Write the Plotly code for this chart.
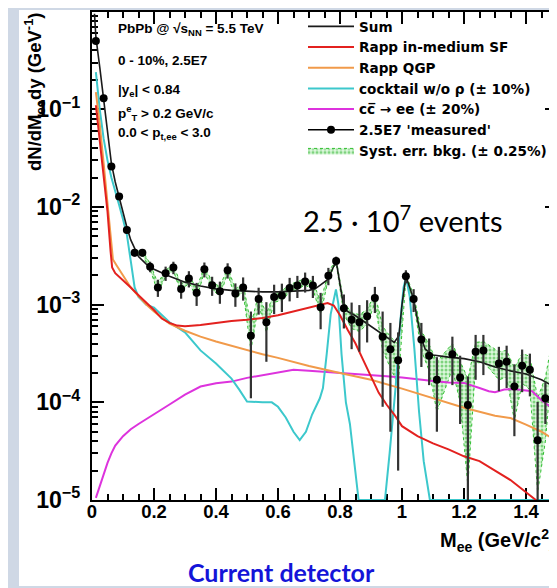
import plotly.graph_objects as go

# ---------------- data ----------------
mass = [0.0125, 0.0375, 0.0625, 0.0875, 0.1125, 0.1375, 0.1625, 0.1875, 0.2125, 0.2375,
        0.2625, 0.2875, 0.3125, 0.3375, 0.3625, 0.3875, 0.4125, 0.4375, 0.4625, 0.4875,
        0.5125, 0.5375, 0.5625, 0.5875, 0.6125, 0.6375, 0.6625, 0.6875, 0.7125, 0.7375,
        0.7625, 0.7875, 0.8125, 0.8375, 0.8625, 0.8875, 0.9125, 0.9375, 0.9625, 0.9875,
        1.0125, 1.0375, 1.0625, 1.0875, 1.1125, 1.1375, 1.1625, 1.1875, 1.2125, 1.2375,
        1.2625, 1.2875, 1.3125, 1.3375, 1.3625, 1.3875, 1.4125, 1.4375, 1.4625, 1.4875]
measured = [0.50, 0.13, 0.026, 0.0128, 0.0058, 0.0034, 0.0034, 0.00245, 0.0015, 0.0021,
            0.0024, 0.00145, 0.00185, 0.00132, 0.0023, 0.00158, 0.00137, 0.00225, 0.0013, 0.0015,
            0.00048, 0.00114, 0.00066, 0.0012, 0.00124, 0.00148, 0.00157, 0.00173, 0.00157, 0.00094,
            0.00198, 0.0028, 0.00092, 0.0007, 0.00066, 0.00076, 0.00117, 0.00047, 0.00035, 0.00027,
            0.00195, 0.00114, 0.00044, 0.0003, 0.00017, None, 0.00031, 0.00018, 0.000094, 0.00033,
            0.00034, None, 0.00025, 0.00026, 0.000145, 0.000237, 0.000215, 0.000041, 0.00011, 0.0004]
stat_err = [0.004, 0.002, 0.0008, 0.0006, 0.0004, 0.0003, 0.0003, 0.0003, 0.0003, 0.00035,
            0.00035, 0.0003, 0.00035, 0.00035, 0.0004, 0.00035, 0.00035, 0.0004, 0.00035, 0.0004,
            0.00037, 0.00035, 0.0004, 0.0004, 0.0004, 0.0004, 0.0004, 0.0004, 0.0004, 0.00038,
            0.0004, 0.0003, 0.00035, 0.00035, 0.00033, 0.00035, 0.00035, 0.00038, 0.0003, 0.00025,
            0.0003, 0.0003, 0.00021, 0.00015, 0.00012, None, 0.00016, 0.00012, 0.00009, 0.00016,
            0.00015, None, 0.00012, 0.00012, 0.0001, 0.00011, 0.0001, 0.00006, 0.00005, 0.00012]
syst_bkg = [0.0, 0.0, 0.0, 0.0, 0.0, 0.00018, 0.00018, 0.00017, 0.00016, 0.00016,
            0.00016, 0.00015, 0.00015, 0.00015, 0.00015, 0.00015, 0.00015, 0.00015, 0.00015, 0.00015,
            0.00014, 0.00014, 0.00014, 0.00014, 0.00014, 0.00014, 0.00014, 0.00014, 0.00014, 0.00014,
            0.00014, 0.00014, 0.00013, 0.00013, 0.00013, 0.00013, 0.00013, 0.00013, 0.00012, 0.00012,
            0.00012, 0.00011, 0.0001, 0.00009, 0.00009, None, 0.00009, 0.00008, 0.00008, 0.00008,
            0.00008, None, 0.00008, 0.00008, 0.00008, 0.00008, 0.00008, 0.00007, 0.00007, 0.00008]
band_floor = 1.2e-5  # lower edge of the drawn band where it would go below the frame

sum_x = [0.008, 0.0125, 0.025, 0.0375, 0.05, 0.0625, 0.075, 0.0875, 0.1, 0.1125, 0.125, 0.1375,
         0.15, 0.175, 0.2, 0.25, 0.3, 0.35, 0.4, 0.45, 0.5, 0.55, 0.6, 0.65, 0.7, 0.72, 0.74,
         0.76, 0.7875, 0.8125, 0.825, 0.85, 0.875, 0.9, 0.925, 0.95, 0.975, 0.99, 1.0, 1.0125,
         1.025, 1.0375, 1.05, 1.0625, 1.075, 1.1, 1.15, 1.2, 1.25, 1.3, 1.35, 1.4, 1.45, 1.5]
sum_y = [0.95, 0.55, 0.27, 0.13, 0.058, 0.028, 0.018, 0.0125, 0.0088, 0.0062, 0.0046, 0.0037,
         0.0031, 0.0026, 0.0023, 0.00195, 0.0017, 0.00155, 0.00145, 0.0014, 0.00137, 0.00135,
         0.00135, 0.00137, 0.0014, 0.00145, 0.0016, 0.0018, 0.0028, 0.00093, 0.00085, 0.00077,
         0.00068, 0.0006, 0.00053, 0.00047, 0.00041, 0.00048, 0.001, 0.00195, 0.0015, 0.00114,
         0.0007, 0.00045, 0.00035, 0.000305, 0.00029, 0.00028, 0.00026, 0.00023, 0.00021,
         0.000195, 0.00017, 0.00014]

rapp_sf_x = [0.0125, 0.025, 0.0375, 0.05, 0.06, 0.065, 0.075, 0.09, 0.1, 0.125, 0.15, 0.175,
             0.2, 0.225, 0.25, 0.275, 0.3, 0.35, 0.4, 0.45, 0.5, 0.55, 0.6, 0.65, 0.7, 0.74,
             0.76, 0.78, 0.8, 0.825, 0.85, 0.875, 0.9, 0.925, 0.95, 0.975, 1.0, 1.05, 1.1,
             1.15, 1.2, 1.25, 1.3, 1.35, 1.4, 1.43, 1.46]
rapp_sf_y = [0.11, 0.05, 0.022, 0.009, 0.0035, 0.0024, 0.0021, 0.0019, 0.0018, 0.0015, 0.00125,
             0.00105, 0.00088, 0.00072, 0.00065, 0.00061, 0.0006, 0.00062, 0.00065, 0.00068,
             0.0007, 0.00073, 0.00078, 0.00085, 0.00093, 0.001, 0.00104, 0.00098, 0.00078,
             0.00055, 0.0004, 0.00027, 0.00018, 0.000125, 0.000095, 0.000075, 0.000057,
             0.000045, 0.000038, 0.000033, 0.000028, 0.000025, 0.00002, 0.000016, 0.000012,
             0.00001, 0.0000085]

rapp_qgp_x = [0.0125, 0.025, 0.0375, 0.05, 0.06, 0.0675, 0.08, 0.1, 0.125, 0.15, 0.175, 0.2,
              0.225, 0.25, 0.3, 0.35, 0.4, 0.45, 0.5, 0.55, 0.6, 0.7, 0.8, 0.9, 1.0, 1.1, 1.2,
              1.3, 1.35, 1.4, 1.45, 1.5]
rapp_qgp_y = [0.15, 0.07, 0.028, 0.011, 0.005, 0.0029, 0.0025, 0.002, 0.0015, 0.00122, 0.001,
              0.00085, 0.00073, 0.00064, 0.00054, 0.00047, 0.00042, 0.00038, 0.00034, 0.00031,
              0.000285, 0.000235, 0.0002, 0.00017, 0.000138, 0.00011, 0.000088, 0.000073,
              0.000069, 0.000059, 0.00005, 0.00004]

cocktail_x = [0.0125, 0.025, 0.0375, 0.05, 0.0625, 0.075, 0.0875, 0.1, 0.1125, 0.125, 0.1375,
              0.15, 0.175, 0.2, 0.25, 0.3, 0.35, 0.4, 0.43, 0.45, 0.475, 0.5, 0.55, 0.58, 0.6,
              0.625, 0.65, 0.67, 0.69, 0.71, 0.735, 0.745, 0.757, 0.77, 0.787, 0.795, 0.805,
              0.819, 0.832, 0.845, 0.86, 0.9, 0.945, 0.96, 0.98, 0.995, 1.005, 1.013, 1.025,
              1.04, 1.055, 1.07, 1.09, 1.2, 1.3, 1.4, 1.5]
cocktail_y = [0.24, 0.1, 0.05, 0.03, 0.02, 0.014, 0.0105, 0.0075, 0.0052, 0.0028, 0.0015,
              0.0012, 0.001, 0.00093, 0.00066, 0.00052, 0.00034, 0.00025, 0.0002, 0.000175,
              0.000135, 0.000102, 0.0001, 0.0001, 0.00009, 0.00007, 0.00005, 0.000041, 0.00005,
              0.000075, 0.00011, 0.00014, 0.00031, 0.0008, 0.00143, 0.001, 0.00031, 0.0001,
              0.00006, 0.000025, 0.00001, 0.00001, 0.00001, 0.00003, 0.00015, 0.0007, 0.0015,
              0.0019, 0.0012, 0.00035, 0.00008, 0.000025, 0.00001, 0.00001, 0.00001, 0.00001,
              0.00001]

charm_x = [0.0125, 0.025, 0.0375, 0.05, 0.0625, 0.075, 0.1, 0.125, 0.15, 0.2, 0.25, 0.3, 0.35,
           0.4, 0.45, 0.5, 0.55, 0.6, 0.65, 0.7, 0.75, 0.8, 0.85, 0.9, 0.95, 1.0, 1.05, 1.1,
           1.15, 1.2, 1.25, 1.28, 1.3, 1.33, 1.36, 1.42, 1.45, 1.5]
charm_y = [0.0000105, 0.000014, 0.000019, 0.000024, 0.00003, 0.000036, 0.000045, 0.000053,
           0.00006, 0.000075, 0.000095, 0.00012, 0.000145, 0.000157, 0.000163, 0.000178,
           0.00019, 0.0002, 0.000215, 0.00021, 0.000205, 0.0002, 0.000197, 0.00019, 0.000185,
           0.00018, 0.000172, 0.000165, 0.00016, 0.000158, 0.00014, 0.00013, 0.000127,
           0.000135, 0.000137, 0.00013, 0.000105, 0.00008]

# ---------------- layout helpers ----------------
# the page body adds an 8 px margin, so the figure is drawn 8 px smaller and the
# plot frame is placed so that it lands at x 92..557, y 12..500 of the window
PAGE = 8
W, H = 557 - PAGE, 588 - PAGE
L, T = 92 - PAGE, 12 - PAGE
PW, PH = 465, 488
R, B = W - L - PW, H - T - PH


def px(xp):
    return (xp - 92) / PW


def py(yp):
    return (500 - yp) / PH


band_x, band_hi, band_lo = [], [], []
for m, v, s in zip(mass, measured, syst_bkg):
    if v is None or s is None or s == 0:
        continue
    band_x.append(m)
    band_hi.append(v + s)
    band_lo.append(max(v - s, band_floor))

bold = dict(family="Liberation Sans, Arial, sans-serif", color="black", weight="bold")

fig = go.Figure()

fig.add_trace(go.Scatter(
    x=band_x + band_x[::-1], y=band_hi + band_lo[::-1], mode="lines", fill="toself",
    line=dict(color="#33c033", width=1, dash="dot"),
    fillcolor="rgba(150,228,150,0.45)",
    fillpattern=dict(shape=".", fgcolor="#22b022", bgcolor="rgba(185,240,185,0.5)",
                     size=4, solidity=0.45),
    name="Syst. err. bkg. (± 0.25%)", legendrank=7, hoverinfo="skip"))

fig.add_trace(go.Scatter(x=charm_x, y=charm_y, mode="lines",
                         line=dict(color="#dd33dd", width=2),
                         name="cc\u0305 → ee (± 20%)", legendrank=5))
fig.add_trace(go.Scatter(x=cocktail_x, y=cocktail_y, mode="lines",
                         line=dict(color="#3cc8cc", width=2),
                         name="cocktail w/o ρ (± 10%)", legendrank=4))
fig.add_trace(go.Scatter(x=rapp_qgp_x, y=rapp_qgp_y, mode="lines",
                         line=dict(color="#f19a4a", width=2),
                         name="Rapp QGP", legendrank=3))
fig.add_trace(go.Scatter(x=rapp_sf_x, y=rapp_sf_y, mode="lines",
                         line=dict(color="#e3211f", width=2),
                         name="Rapp in-medium SF", legendrank=2))
fig.add_trace(go.Scatter(x=sum_x, y=sum_y, mode="lines",
                         line=dict(color="#1a1a1a", width=1.6),
                         name="Sum", legendrank=1))

fig.add_trace(go.Scatter(
    x=mass, y=measured, mode="markers",
    marker=dict(color="black", size=8),
    error_y=dict(type="data", array=stat_err, symmetric=True, color="#333333",
                 thickness=2.2, width=0),
    showlegend=False, name="2.5E7 'measured'"))
# legend entry for the measured points (line + marker glyph)
fig.add_trace(go.Scatter(x=[None], y=[None], mode="lines+markers",
                         line=dict(color="black", width=1.6),
                         marker=dict(color="black", size=8),
                         name="2.5E7 'measured'", legendrank=6))

axis_common = dict(showline=True, linewidth=2, linecolor="black", mirror="allticks",
                   ticks="inside", ticklen=12, tickwidth=1.5, tickcolor="black",
                   showgrid=False, zeroline=False, layer="below traces",
                   tickfont=dict(size=18.5, **bold))

fig.update_xaxes(range=[0, 1.5], dtick=0.2, tick0=0, ticklabelstandoff=-6,
                 minor=dict(ticks="inside", ticklen=6, dtick=0.05, tickwidth=1.5,
                            tickcolor="black", showgrid=False),
                 **axis_common)
fig.update_yaxes(type="log", range=[-5, -0.004], dtick=1, exponentformat="power",
                 ticklabelstandoff=6,
                 minor=dict(ticks="inside", ticklen=6, dtick="D1", tickwidth=1.5,
                            tickcolor="black", showgrid=False),
                 **axis_common)

annotations = [
    dict(x=px(35), y=py(92), text="dN/dM<sub>ee</sub>dy (GeV<sup>-1</sup>)",
         textangle=-90, font=dict(size=18.5, **bold)),
    dict(x=px(558), y=py(540), text="M<sub>ee</sub> (GeV/c<sup>2</sup>)",
         xanchor="right", font=dict(size=20, **bold)),
    dict(x=px(116), y=py(30), xanchor="left", text="PbPb @ √s<sub>NN</sub> = 5.5 TeV",
         font=dict(size=13.5, **bold)),
    dict(x=px(116), y=py(60), xanchor="left", text="0 - 10%, 2.5E7",
         font=dict(size=13.5, **bold)),
    dict(x=px(116), y=py(90), xanchor="left", text="|y<sub>e</sub>| < 0.84",
         font=dict(size=13.5, **bold)),
    dict(x=px(116), y=py(113), xanchor="left", text="p<sup>e</sup><sub>T</sub> > 0.2 GeV/c",
         font=dict(size=13.5, **bold)),
    dict(x=px(116), y=py(133), xanchor="left", text="0.0 < p<sub>t,ee</sub> < 3.0",
         font=dict(size=13.5, **bold)),
    dict(x=px(403), y=py(219), text="2.5 · 10<sup>7</sup> events",
         font=dict(family="Lato, Open Sans, sans-serif", size=29, color="black")),
    dict(x=px(281), y=py(572), text="Current detector",
         font=dict(family="Lato, Open Sans, sans-serif", size=25, color="#1414d8",
                   weight="bold")),
]
for a in annotations:
    a.setdefault("xanchor", "center")
    a.update(xref="paper", yref="paper", showarrow=False, yanchor="middle")

fig.update_layout(
    width=W, height=H,
    margin=dict(l=L, r=R, t=T, b=B, autoexpand=False),
    paper_bgcolor="#cfd8e5",
    plot_bgcolor="white",
    annotations=annotations,
    shapes=[dict(type="rect", xref="paper", yref="paper", layer="below",
                 x0=px(19), x1=px(560), y0=py(586), y1=py(10),
                 fillcolor="white", line=dict(width=0))],
    showlegend=True,
    legend=dict(x=px(303), y=py(11), xanchor="left", yanchor="top",
                bgcolor="rgba(0,0,0,0)", borderwidth=0, itemwidth=46,
                font=dict(family="DejaVu Sans, sans-serif", size=13.6, color="black",
                          weight="bold"),
                traceorder="normal"),
)

fig.write_html("out.html")
